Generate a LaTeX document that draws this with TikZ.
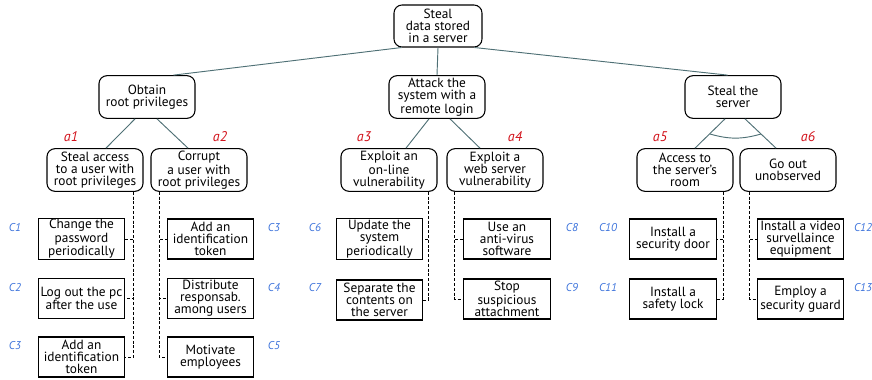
\documentclass[tikz,border=0pt]{standalone}
\usepackage{fontspec}
\setmainfont{PT Sans}
\usetikzlibrary{calc}
\definecolor{atedge}{HTML}{4F7075}
\definecolor{atred}{HTML}{D2121B}
\definecolor{atblue}{HTML}{3D73DB}
\tikzstyle{atgoal}=[draw=black,rounded corners=6pt,line width=0.8pt,minimum width=72pt,
  minimum height=32pt,align=center,inner sep=1pt,font=\fontsize{10}{9}\selectfont]
\tikzstyle{atleaf}=[draw=black,line width=0.8pt,minimum width=65pt,minimum height=30pt,
  align=center,inner sep=1pt,font=\fontsize{10}{9}\selectfont]
\tikzstyle{atedge}=[draw=atedge,line width=0.7pt]
\tikzstyle{atdash}=[draw=black,line width=0.65pt,dash pattern=on 2.2pt off 1.4pt]
\tikzstyle{atattack}=[text=atred,font=\fontsize{10.5}{10}\selectfont\itshape,inner sep=0pt]
\tikzstyle{atcounter}=[text=atblue,font=\fontsize{8.5}{9}\selectfont\itshape,inner sep=0pt]

\begin{document}
\begin{tikzpicture}[x=0.75pt,y=0.75pt]
    \useasboundingbox (0,0) rectangle (872,-379);
    % ---- root and sub-goals ----
    \node[atgoal,minimum width=66pt,minimum height=31.5pt] (root) at (438,-26) {Steal\\data stored\\in a server};
    \node[atgoal] (obtain) at (147,-97) {Obtain\\root privileges};
    \node[atgoal] (attack) at (437,-97) {Attack the\\system with a\\remote login};
    \node[atgoal] (server) at (733,-97) {Steal the\\server};
    \draw[atedge] ([xshift=6pt]root.south west) -- ([xshift=-16.5pt]obtain.north east);
    \draw[atedge] (root.south) -- (attack.north);
    \draw[atedge] ([xshift=-6pt]root.south east) -- ([xshift=-4pt]server.north);

    % ---- attacks ----
    \node[atgoal] (stealacc) at (95,-170)  {Steal access\\to a user with\\root privileges};
    \node[atgoal] (corrupt)  at (199,-170) {Corrupt\\a user with\\root privileges};
    \node[atgoal] (online)   at (389,-170) {Exploit an\\on-line\\vulnerability};
    \node[atgoal] (websrv)   at (495,-170) {Exploit a\\web server\\vulnerability};
    \node[atgoal] (room)     at (685,-170) {Access to\\the server’s\\room};
    \node[atgoal] (goout)    at (788,-170) {Go out\\unobserved};
    \foreach \a/\sa/\b/\sb in {obtain/-12/stealacc/11,obtain/10/corrupt/-11,
                               attack/-8/online/17,attack/13/websrv/-15,
                               server/-8/room/10,server/12/goout/-12}
      {\draw[atedge] ([xshift=\sa*0.75pt]\a.south) -- ([xshift=\sb*0.75pt]\b.north);}
    % AND arc
    \coordinate (arcL) at (710,-134);
    \coordinate (arcR) at (761,-134);
    \draw[atedge] (arcL) to[bend right=16] (arcR);

    \foreach \n/\x in {1/71,2/220,3/364,4/515,5/660,6/808}
      {\node[atattack] (lbla\n) at (\x,-137) {a\n};}

    % ---- countermeasures ----
    \node[atleaf] (c1)  at (81.5,-239)   {Change the\\password\\periodically};
    \node[atleaf] (c2)  at (81.5,-298.5) {Log out the pc\\after the use};
    \node[atleaf] (c3a) at (81.5,-357)   {Add an\\identification\\token};
    \node[atleaf] (c3b) at (210.5,-239)  {Add an\\identification\\token};
    \node[atleaf] (c4)  at (210.5,-298.5){Distribute\\responsab.\\among users};
    \node[atleaf] (c5)  at (210.5,-357)  {Motivate\\employees};
    \node[atleaf] (c6)  at (379.5,-239)  {Update the\\system\\periodically};
    \node[atleaf] (c7)  at (379.5,-300)  {Separate the\\contents on\\the server};
    \node[atleaf] (c8)  at (507,-239)    {Use an\\anti-virus\\software};
    \node[atleaf] (c9)  at (507,-299)    {Stop\\suspicious\\attachment};
    \node[atleaf] (c10) at (673,-239)    {Install a\\security door};
    \node[atleaf] (c11) at (673,-299)    {Install a\\safety lock};
    \node[atleaf] (c12) at (800.5,-239)  {Install a video\\survellaince\\equipment};
    \node[atleaf] (c13) at (800.5,-299)  {Employ a\\security guard};

    \coordinate (dA) at ([xshift=-7.5pt]stealacc.south east);
    \coordinate (dB) at ([xshift=6.75pt]corrupt.south west);
    \coordinate (dC) at ([xshift=-6.75pt]online.south east);
    \coordinate (dD) at ([xshift=6pt]websrv.south west);
    \coordinate (dE) at ([xshift=-7.5pt]room.south east);
    \coordinate (dF) at ([xshift=7.5pt]goout.south west);
    \foreach \c in {c1,c2,c3a} {\draw[atdash] (dA) |- (\c.east);}
    \foreach \c in {c3b,c4,c5} {\draw[atdash] (dB) |- (\c.west);}
    \foreach \c in {c6,c7}     {\draw[atdash] (dC) |- (\c.east);}
    \foreach \c in {c8,c9}     {\draw[atdash] (dD) |- (\c.west);}
    \foreach \c in {c10,c11}   {\draw[atdash] (dE) |- (\c.east);}
    \foreach \c in {c12,c13}   {\draw[atdash] (dF) |- (\c.west);}

    \foreach \t/\x/\y in {1/15/228,2/15/288,3/15/346,3/274/228,4/274/288,5/274/346,
                          6/315/228,7/315/288,8/572/228,9/572/288,
                          10/608/228,11/608/288,12/863/228,13/863/288}
      {\node[atcounter] (lblc\t x\x) at (\x,-\y) {C\t};}
  \end{tikzpicture}
\end{document}
